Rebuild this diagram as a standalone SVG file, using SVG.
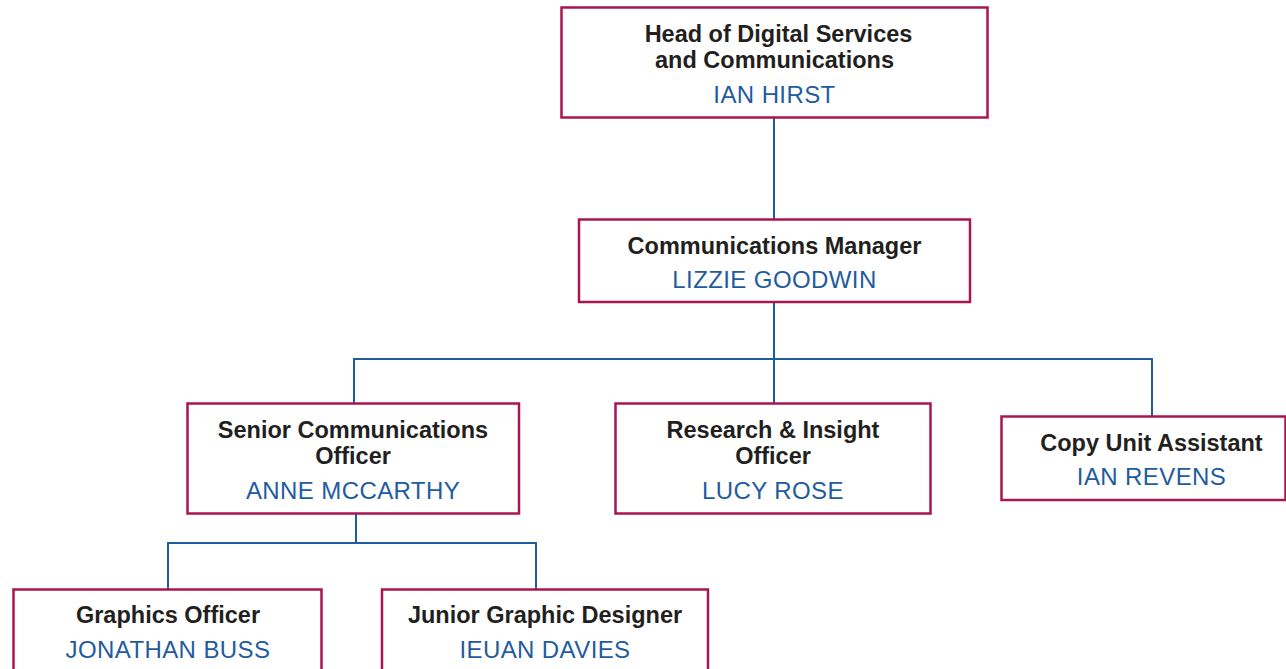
<svg xmlns="http://www.w3.org/2000/svg" width="1286" height="669" viewBox="0 0 1286 669">
<style>
.box{fill:#fff;stroke:#A8164F;stroke-width:2.5}
.t{font-family:"Liberation Sans",Arial,sans-serif;font-weight:bold;font-size:23.5px;fill:#231F20;text-anchor:middle}
.n{font-family:"Liberation Sans",Arial,sans-serif;font-size:24px;letter-spacing:0.4px;fill:#1F5C9E;text-anchor:middle}
.c{fill:none;stroke:#1F5C9E;stroke-width:2}
</style>
<rect width="1286" height="669" fill="#fff"/>
<g id="connectors">
<path class="c" d="M774 118V219"/>
<path class="c" d="M774 302V403"/>
<path class="c" d="M354 403V359H1152V416"/>
<path class="c" d="M356 514V543"/>
<path class="c" d="M168 589V543H536V589"/>
</g>
<g id="head">
<rect class="box" x="561.5" y="7.5" width="426" height="110"/>
<text class="t" x="778.5" y="42">Head of Digital Services</text>
<text class="t" x="774.5" y="68">and Communications</text>
<text class="n" x="774.5" y="103">IAN HIRST</text>
</g>
<g id="manager">
<rect class="box" x="579" y="219.5" width="391" height="82.5"/>
<text class="t" x="774.5" y="254">Communications Manager</text>
<text class="n" x="774.5" y="288">LIZZIE GOODWIN</text>
</g>
<g id="senior">
<rect class="box" x="187.5" y="403.5" width="331.5" height="110"/>
<text class="t" x="353" y="438">Senior Communications</text>
<text class="t" x="353" y="464">Officer</text>
<text class="n" x="353" y="499">ANNE MCCARTHY</text>
</g>
<g id="research">
<rect class="box" x="615.5" y="403.5" width="315" height="110"/>
<text class="t" x="773" y="438">Research &amp; Insight</text>
<text class="t" x="773" y="464">Officer</text>
<text class="n" x="773" y="499">LUCY ROSE</text>
</g>
<g id="copy">
<rect class="box" x="1001.5" y="416.5" width="284" height="83.5"/>
<text class="t" x="1151.5" y="451">Copy Unit Assistant</text>
<text class="n" x="1151.5" y="485">IAN REVENS</text>
</g>
<g id="graphics">
<rect class="box" x="13.5" y="589.5" width="308" height="100"/>
<text class="t" x="168" y="623">Graphics Officer</text>
<text class="n" x="168" y="658">JONATHAN BUSS</text>
</g>
<g id="junior">
<rect class="box" x="382" y="589.5" width="326" height="100"/>
<text class="t" x="545" y="623">Junior Graphic Designer</text>
<text class="n" x="545" y="658">IEUAN DAVIES</text>
</g>
</svg>
